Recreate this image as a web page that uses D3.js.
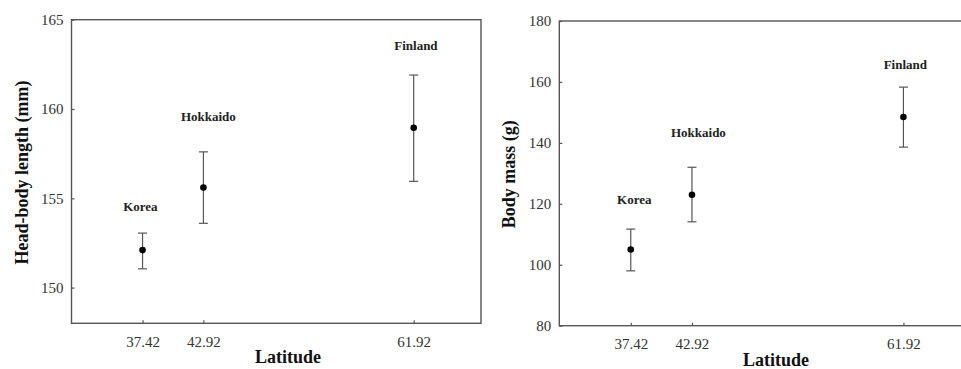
<!DOCTYPE html>
<html>
<head>
<meta charset="utf-8">
<script src="https://cdn.jsdelivr.net/npm/d3@7"></script>
<style>
  html, body { margin: 0; padding: 0; background: #fff; }
  svg { display: block; }
  svg text { font-family: "Liberation Serif", "Times New Roman", serif !important; }
</style>
</head>
<body>
<div id="chart"></div>
<script>
// ---- data ----
const regions = ["Korea", "Hokkaido", "Finland"];
const latitude = [37.42, 42.92, 61.92];
const latTicks = [37.42, 42.92, 61.92];

const hbMean = [152.1, 155.6, 158.95];
const hbLow  = [151.05, 153.6, 155.95];
const hbHigh = [153.05, 157.6, 161.9];
const hbTicks = [150, 155, 160, 165];
const hbLabelLat = [37.22, 43.37, 62.12];
const hbLabelVal = [154.3, 159.3, 163.3];

const massMean = [105.0, 123.0, 148.5];
const massLow  = [98.0, 114.1, 138.6];
const massHigh = [111.7, 132.0, 158.3];
const massTicks = [80, 100, 120, 140, 160, 180];
const massLabelLat = [37.74, 43.5, 62.09];
const massLabelVal = [120.0, 142.0, 164.3];

const W = 961, H = 369;
const svg = d3.select("#chart").append("svg").attr("width", W).attr("height", H);
const FONT = "'Liberation Serif', 'Times New Roman', serif";

const lineColor = "#555";

function panel(cfg) {
  const x = d3.scaleLinear().domain([31, 68]).range([cfg.left, cfg.right]);
  const y = d3.scaleLinear().domain(cfg.yDomain).range([cfg.bottom, cfg.top]);
  const g = svg.append("g").attr("font-family", FONT);

  // frame
  g.append("rect")
    .attr("x", cfg.left).attr("y", cfg.top)
    .attr("width", cfg.right - cfg.left).attr("height", cfg.bottom - cfg.top)
    .attr("fill", "none").attr("stroke", lineColor).attr("stroke-width", 1.4);

  // y axis
  const ya = g.append("g").attr("transform", `translate(${cfg.left},0)`)
    .call(d3.axisLeft(y).tickValues(cfg.yTicks).tickFormat(d3.format("d"))
      .tickSizeInner(-3).tickSizeOuter(0).tickPadding(8));
  ya.attr("font-family", FONT).attr("font-size", 15);
  ya.select(".domain").remove();
  ya.selectAll(".tick line").attr("stroke", lineColor).attr("stroke-width", 1.2);
  ya.selectAll(".tick text").attr("fill", "#333");

  // x axis
  const xa = g.append("g").attr("transform", `translate(0,${cfg.bottom})`)
    .call(d3.axisBottom(x).tickValues(latTicks).tickFormat(d3.format(".2f"))
      .tickSizeInner(-3).tickSizeOuter(0).tickPadding(13));
  xa.attr("font-family", FONT).attr("font-size", 15);
  xa.select(".domain").remove();
  xa.selectAll(".tick line").attr("stroke", lineColor).attr("stroke-width", 1.2);
  xa.selectAll(".tick text").attr("fill", "#333");

  // error bars
  const idx = d3.range(regions.length);
  g.selectAll(".eb").data(idx).join("line")
    .attr("x1", i => x(latitude[i])).attr("x2", i => x(latitude[i]))
    .attr("y1", i => y(cfg.low[i])).attr("y2", i => y(cfg.high[i]))
    .attr("stroke", lineColor).attr("stroke-width", 1.2);
  g.selectAll(".capT").data(idx).join("line")
    .attr("x1", i => x(latitude[i]) - 4.5).attr("x2", i => x(latitude[i]) + 4.5)
    .attr("y1", i => y(cfg.high[i])).attr("y2", i => y(cfg.high[i]))
    .attr("stroke", lineColor).attr("stroke-width", 1.2);
  g.selectAll(".capB").data(idx).join("line")
    .attr("x1", i => x(latitude[i]) - 4.5).attr("x2", i => x(latitude[i]) + 4.5)
    .attr("y1", i => y(cfg.low[i])).attr("y2", i => y(cfg.low[i]))
    .attr("stroke", lineColor).attr("stroke-width", 1.2);

  // points
  g.selectAll(".pt").data(idx).join("circle")
    .attr("cx", i => x(latitude[i])).attr("cy", i => y(cfg.mean[i]))
    .attr("r", 3.3).attr("fill", "#000");

  // region labels
  g.selectAll(".lbl").data(idx).join("text")
    .attr("x", i => x(cfg.labelLat[i])).attr("y", i => y(cfg.labelVal[i]))
    .attr("text-anchor", "middle").attr("font-size", 13).attr("font-weight", "bold")
    .attr("fill", "#222").text(i => regions[i]);

  // axis titles
  g.append("text")
    .attr("x", cfg.xTitleX).attr("y", cfg.xTitleY)
    .attr("text-anchor", "middle").attr("font-size", 18).attr("font-weight", "bold")
    .attr("fill", "#111").text("Latitude");
  g.append("text")
    .attr("transform", `translate(${cfg.yTitleX},${(cfg.top + cfg.bottom) / 2 + 1}) rotate(-90)`)
    .attr("text-anchor", "middle").attr("font-size", 18).attr("font-weight", "bold")
    .attr("fill", "#111").text(cfg.yTitle);
}

panel({
  left: 71.5, right: 481, top: 19.7, bottom: 323.3,
  yDomain: [148, 165], yTicks: hbTicks,
  mean: hbMean, low: hbLow, high: hbHigh,
  labelLat: hbLabelLat, labelVal: hbLabelVal,
  xTitleX: 288, xTitleY: 363, yTitleX: 27.5,
  yTitle: "Head-body length (mm)"
});

panel({
  left: 559.3, right: 971.1, top: 21, bottom: 325.7,
  yDomain: [80, 180], yTicks: massTicks,
  mean: massMean, low: massLow, high: massHigh,
  labelLat: massLabelLat, labelVal: massLabelVal,
  xTitleX: 776, xTitleY: 366, yTitleX: 515,
  yTitle: "Body mass (g)"
});
</script>
</body>
</html>
